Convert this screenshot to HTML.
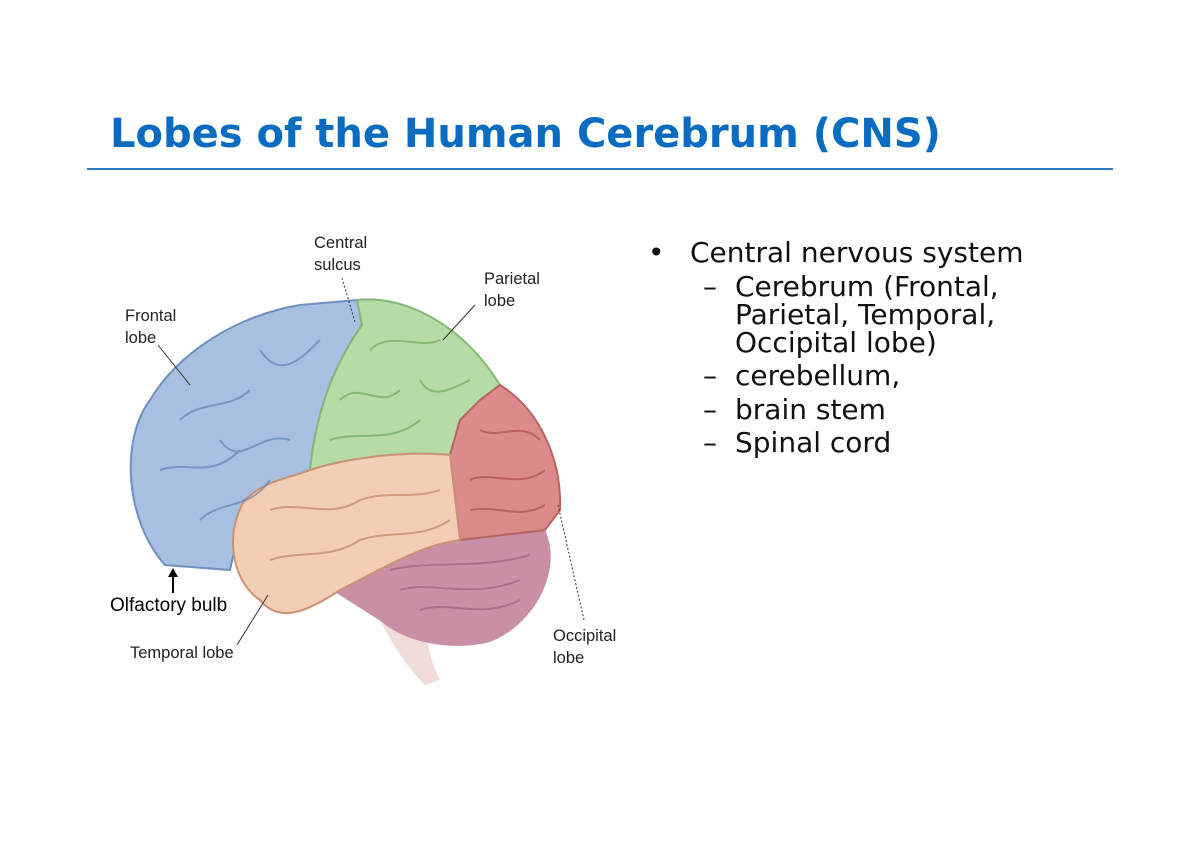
<!DOCTYPE html>
<html><head><meta charset="utf-8"><style>
body{margin:0;background:#fff;width:1200px;height:849px;overflow:hidden;position:relative;font-family:"DejaVu Sans",sans-serif}
.t{position:absolute;left:110px;top:111px;font:bold 40px "DejaVu Sans",sans-serif;color:#0a6cc0;white-space:nowrap}
.hr{position:absolute;left:87px;top:168px;width:1026px;height:2px;background:#2a78c2}
.b{position:absolute;font-size:28px;color:#111;white-space:nowrap;line-height:28px}
</style></head><body>
<div class="t">Lobes of the Human Cerebrum (CNS)</div>
<div class="hr"></div>
<svg width="1200" height="849" style="position:absolute;left:0;top:0">
<path d="M380,620 C395,650 410,670 425,685 L440,680 C430,660 425,640 430,625 Z" fill="#f0dcd8"/>
<path d="M440,540 L545,530 C562,565 540,622 490,642 C450,652 405,642 382,622 L335,592 Z" fill="#c98fa6"/>
<path d="M357,300 L300,305 C240,315 180,350 150,400 C120,440 125,520 165,565 L230,570 C240,520 260,490 300,478 L310,470 C315,420 330,370 362,325 Z" fill="#a7bfe0" stroke="#6f8fbd" stroke-width="2"/>
<path d="M357,300 C400,295 460,320 500,385 L480,400 L460,420 L450,455 C400,450 340,460 310,470 C315,420 330,370 362,325 Z" fill="#b7dba5" stroke="#86b678" stroke-width="2"/>
<path d="M500,385 C540,410 562,460 560,510 L545,530 L460,540 L450,455 L460,420 L480,400 Z" fill="#dc8a8a" stroke="#b86464" stroke-width="2"/>
<path d="M310,470 C340,460 400,450 450,455 L460,540 C420,545 380,570 340,590 C310,610 280,625 260,600 C230,580 225,530 245,500 C265,480 290,478 310,470 Z" fill="#f4cdb5" stroke="#c99275" stroke-width="2"/>
<g fill="none" stroke-width="2" opacity="0.6">
<path d="M180,420 C200,400 230,410 250,390 M160,470 C190,460 210,480 240,450 M200,520 C220,500 250,510 270,480 M260,350 C280,380 300,360 320,340 M220,440 C240,470 260,430 290,440" stroke="#5a7cae"/>
<path d="M340,400 C360,380 380,410 400,390 M370,350 C390,330 420,350 440,340 M330,440 C360,430 390,445 420,420 M420,380 C430,400 450,390 470,380" stroke="#6aa05a"/>
<path d="M480,430 C500,440 520,420 540,440 M470,480 C490,470 520,490 545,470 M470,510 C500,505 520,520 545,505" stroke="#a54848"/>
<path d="M270,510 C300,500 330,520 360,500 C390,490 410,500 440,490 M270,560 C300,550 330,560 360,540 C390,530 420,540 450,520" stroke="#b77d60"/>
<path d="M400,590 C430,580 470,600 520,580 M420,610 C450,600 480,620 520,600 M390,570 C430,560 480,570 530,555" stroke="#9a5c78"/>
</g>
<g stroke="#333" stroke-width="1" fill="none">
<line x1="342" y1="278" x2="355" y2="322" stroke-dasharray="2,2"/>
<line x1="475" y1="305" x2="443" y2="340"/>
<line x1="158" y1="345" x2="190" y2="385"/>
<line x1="268" y1="595" x2="237" y2="645"/>
<line x1="558" y1="505" x2="584" y2="620" stroke-dasharray="2,2"/>
<line x1="173" y1="593" x2="173" y2="575" stroke="#000" stroke-width="2"/>
</g>
<polygon points="168,577 178,577 173,568" fill="#000"/>
<g font-family="Liberation Sans,sans-serif" font-size="16.5" fill="#222">
<text x="314" y="248">Central</text><text x="314" y="270">sulcus</text>
<text x="484" y="284">Parietal</text><text x="484" y="306">lobe</text>
<text x="125" y="321">Frontal</text><text x="125" y="343">lobe</text>
<text x="130" y="658">Temporal lobe</text>
<text x="553" y="641">Occipital</text><text x="553" y="663">lobe</text>
<text x="110" y="611" font-size="19" fill="#000">Olfactory bulb</text>
</g>
</svg>
<div class="b" style="left:648px;top:239px">•</div>
<div class="b" style="left:690px;top:239px">Central nervous system</div>
<div class="b" style="left:703px;top:273px">–</div>
<div class="b" style="left:735px;top:273px">Cerebrum (Frontal,<br>Parietal, Temporal,<br>Occipital lobe)</div>
<div class="b" style="left:703px;top:362px">–</div><div class="b" style="left:735px;top:362px">cerebellum,</div>
<div class="b" style="left:703px;top:396px">–</div><div class="b" style="left:735px;top:396px">brain stem</div>
<div class="b" style="left:703px;top:429px">–</div><div class="b" style="left:735px;top:429px">Spinal cord</div>
</body></html>
